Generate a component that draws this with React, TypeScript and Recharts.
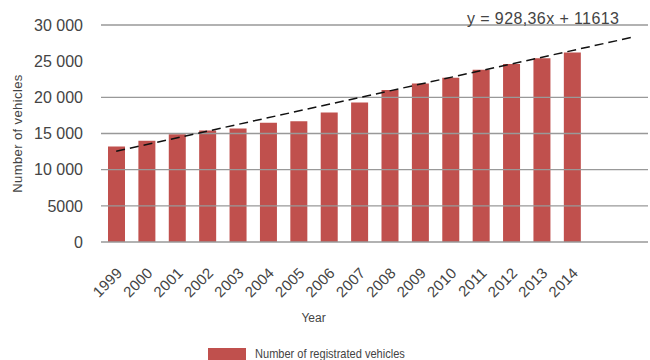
import { ComposedChart, Bar, Line, XAxis, YAxis, ReferenceLine } from "recharts";

// categories (two empty slots on the right where only the trend line runs)
const years = [
  "1999", "2000", "2001", "2002", "2003", "2004", "2005", "2006",
  "2007", "2008", "2009", "2010", "2011", "2012", "2013", "2014", "", "",
];
const vehicles = [
  13200, 14000, 14900, 15400, 15700, 16500, 16700, 17900,
  19300, 21000, 21900, 22700, 23800, 24600, 25400, 26200,
];
// trend line end points (first and last category)
const trendEnds = [12540, 28320];
const yTicks = [0, 5000, 10000, 15000, 20000, 25000, 30000];
// the 25 000 grid line is not drawn in the original
const gridValues = [5000, 10000, 15000, 20000, 30000];

const data = years.map((year, i) => ({
  year,
  vehicles: i < vehicles.length ? vehicles[i] : null,
  trend: i === 0 ? trendEnds[0] : i === years.length - 1 ? trendEnds[1] : null,
}));

const FONT = "'Liberation Sans', Arial, sans-serif";
const TEXT = "#444";

const fmt = (v: number) => (v >= 10000 ? `${Math.floor(v / 1000)} ${String(v % 1000).padStart(3, "0")}` : String(v));

const YearTick = ({ x, y, payload }: any) => {
  if (!payload.value) return null;
  return (
    <g transform={`translate(${x + 7},${y + 24}) rotate(-45)`}>
      <text x={0} y={0} textAnchor="end" fontSize={15} fontFamily={FONT} fill={TEXT} letterSpacing={0.2}>
        {payload.value}
      </text>
    </g>
  );
};

export default function App() {
  return (
    <div style={{ position: "absolute", left: 0, top: 0, width: 650, height: 360, background: "#fff" }}>
      <ComposedChart width={650} height={360} data={data} margin={{ top: 25, right: 2, bottom: 0, left: 0 }}>
        <XAxis
          dataKey="year"
          height={118}
          interval={0}
          tickLine={false}
          axisLine={{ stroke: "#999", strokeWidth: 1.3 }}
          tick={<YearTick />}
          label={{ value: "Year", position: "insideBottom", offset: 38, dx: -61, fontSize: 12, fontFamily: FONT, fill: TEXT }}
        />
        <YAxis
          width={101}
          domain={[0, 30000]}
          ticks={yTicks}
          axisLine={false}
          tickLine={false}
          tickSize={8}
          tickMargin={10}
          tickFormatter={fmt}
          tick={{ fontSize: 16, fontFamily: FONT, fill: TEXT }}
          label={{ value: "Number of vehicles", angle: -90, position: "center", dx: -33, fontSize: 13, fontFamily: FONT, fill: TEXT, letterSpacing: 0.4 }}
        />
        {gridValues.map((v) => (
          <ReferenceLine key={v} y={v} stroke="#999" strokeWidth={1.3} />
        ))}
        <Bar dataKey="vehicles" fill="#C0504D" barSize={17} isAnimationActive={false} />
        <Line
          dataKey="trend"
          type="linear"
          stroke="#111"
          strokeWidth={1.5}
          strokeDasharray="9 5"
          dot={false}
          connectNulls
          isAnimationActive={false}
        />
      </ComposedChart>
      <div
        style={{
          position: "absolute",
          left: 467,
          top: 10,
          fontSize: 16,
          fontFamily: FONT,
          color: TEXT,
          whiteSpace: "nowrap",
          letterSpacing: 0.4,
        }}
      >
        y = 928,36x + 11613
      </div>
      <div style={{ position: "absolute", left: 208, top: 346, display: "flex", alignItems: "center" }}>
        <div style={{ width: 38, height: 12, background: "#C0504D" }} />
        <span
          style={{
            marginLeft: 9,
            fontSize: 13,
            fontFamily: FONT,
            color: TEXT,
            whiteSpace: "nowrap",
            display: "inline-block",
            transform: "scaleX(0.85)",
            transformOrigin: "left center",
          }}
        >
          Number of registrated vehicles
        </span>
      </div>
    </div>
  );
}
